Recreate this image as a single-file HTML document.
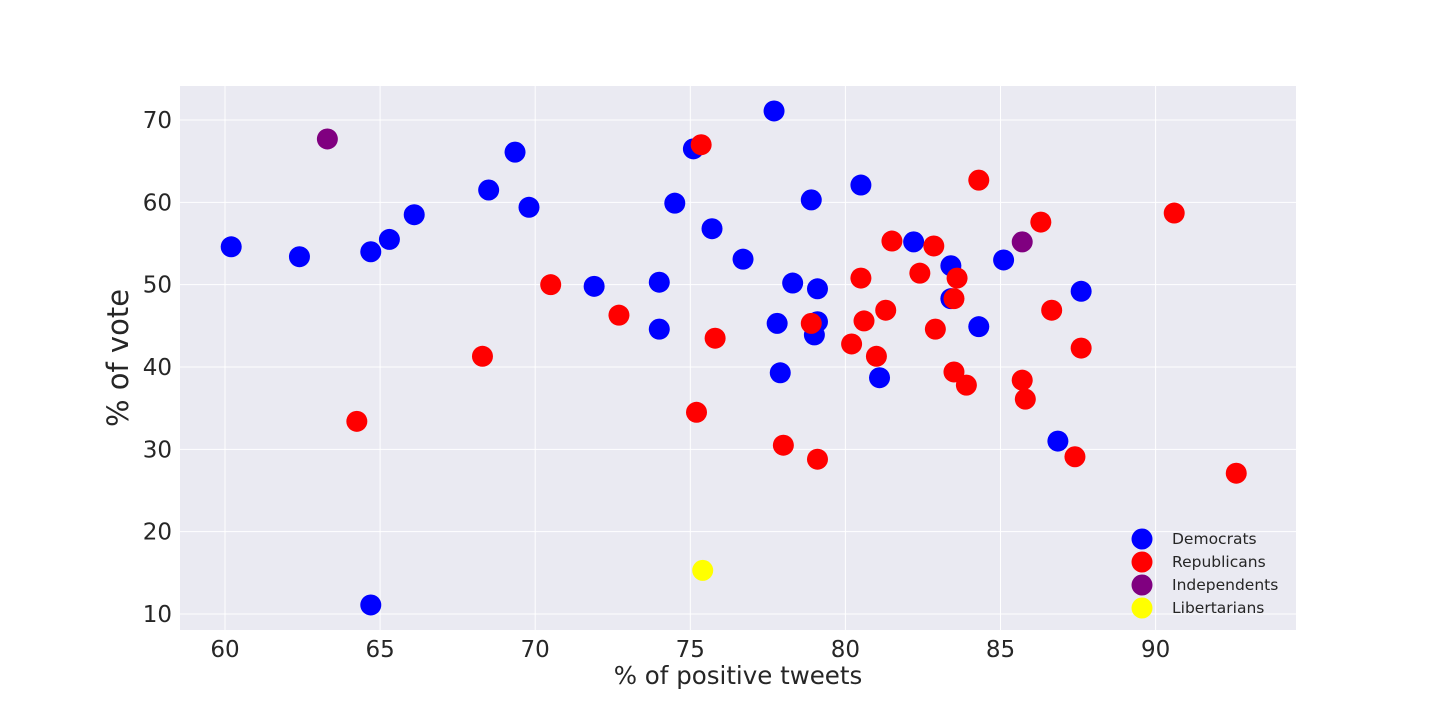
<!DOCTYPE html>
<html><head><meta charset="utf-8"><style>
html,body{margin:0;padding:0;background:#fff;}
svg text{font-family:"DejaVu Sans","Liberation Sans",sans-serif;fill:#262626;}
</style></head><body>
<svg id="chart" width="1440" height="720" xmlns="http://www.w3.org/2000/svg">
<rect x="180" y="86" width="1116" height="544" fill="#eaeaf2"/>
<g id="grid"></g><g id="ticks"></g><g id="marks"></g>
<text x="738" y="684" font-size="24.5" text-anchor="middle">% of positive tweets</text>
<text transform="translate(128,358) rotate(-90)" font-size="29" text-anchor="middle">% of vote</text>
<g id="legend"></g>
</svg>
<script>
const xTicks=[60,65,70,75,80,85,90];
const yTicks=[10,20,30,40,50,60,70];
const demX=[60.2,62.4,64.7,65.3,66.1,68.5,69.35,69.8,71.9,74.0,74.0,74.5,75.1,75.7,76.7,77.7,77.8,77.9,78.3,78.9,79.1,79.1,79.0,80.5,81.1,82.2,83.4,83.4,84.3,85.1,86.85,87.6,64.7];
const demY=[54.6,53.4,54.0,55.5,58.5,61.5,66.1,59.4,49.8,50.3,44.6,59.9,66.5,56.8,53.1,71.1,45.3,39.3,50.2,60.3,49.5,45.5,43.9,62.1,38.7,55.2,52.3,48.3,44.9,53.0,31.0,49.2,11.1];
const repX=[64.25,68.3,70.5,72.7,75.2,75.35,75.8,78.0,78.9,79.1,80.2,80.5,80.6,81.0,81.3,81.5,82.4,82.85,82.9,83.6,83.5,83.5,83.9,84.3,85.7,85.8,86.3,86.65,87.6,87.4,90.6,92.6];
const repY=[33.4,41.3,50.0,46.3,34.5,67.0,43.5,30.5,45.3,28.8,42.8,50.8,45.6,41.3,46.9,55.3,51.4,54.7,44.6,50.8,48.3,39.4,37.8,62.7,38.4,36.1,57.6,46.9,42.3,29.1,58.7,27.1];
const indX=[63.3,85.7];
const indY=[67.7,55.2];
const libX=[75.4];
const libY=[15.3];
const seriesNames=["Democrats","Republicans","Independents","Libertarians"];
const seriesColors=["#0000ff","#ff0000","#800080","#ffff00"];
const NS="http://www.w3.org/2000/svg";
function xs(v){return 225+(v-60)*31.02;}
function ys(v){return 614-(v-10)*8.233;}
function mk(tag,attrs,parent){const e=document.createElementNS(NS,tag);for(const k in attrs)e.setAttribute(k,attrs[k]);parent.appendChild(e);return e;}
const grid=document.getElementById('grid'),ticks=document.getElementById('ticks'),marks=document.getElementById('marks'),legend=document.getElementById('legend');
xTicks.forEach(t=>{
  const l=mk('line',{x1:xs(t),x2:xs(t),y1:86,y2:630,stroke:'#fff','stroke-width':1},grid);
  
  
  const tx=mk('text',{x:xs(t),y:657,'font-size':23,'text-anchor':'middle'},ticks);tx.textContent=t;
  
  
});
yTicks.forEach(t=>{
  const l=mk('line',{x1:180,x2:1296,y1:ys(t),y2:ys(t),stroke:'#fff','stroke-width':1},grid);
  
  
  const tx=mk('text',{x:172,y:ys(t)+8,'font-size':23,'text-anchor':'end'},ticks);tx.textContent=t;
  
  
});
const sets=[[demX,demY],[repX,repY],[indX,indY],[libX,libY]];
sets.forEach((s,i)=>{
  s[0].forEach((v,j)=>{
    const c=mk('circle',{cx:xs(v),cy:ys(s[1][j]),r:10.5,fill:seriesColors[i]},marks);
    
    
  });
  const ly=539+i*23;
  const lc=mk('circle',{cx:1142,cy:ly,r:10.5,fill:seriesColors[i]},legend);
  
  
  const lt=mk('text',{x:1172,y:ly+5,'font-size':15.5},legend);lt.textContent=seriesNames[i];
  
  
});
</script>
</body></html>
